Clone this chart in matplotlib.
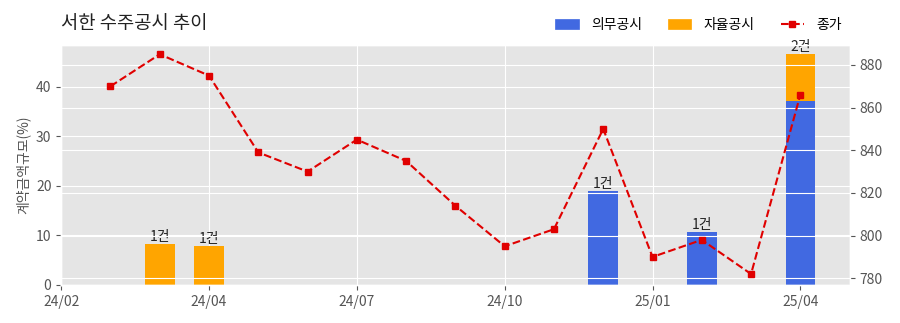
import numpy as np
import matplotlib
matplotlib.use('Agg')
import matplotlib.pyplot as plt
from matplotlib.patches import Patch
from matplotlib.lines import Line2D

plt.style.use('ggplot')
plt.rcParams['font.family'] = ['Noto Sans CJK KR', 'DejaVu Sans']
plt.rcParams['axes.unicode_minus'] = False

# data (categorical positions 0..15)
tick_pos = [0, 3, 6, 9, 12, 15]
tick_labels = ['24/02', '24/04', '24/07', '24/10', '25/01', '25/04']

price_x = list(range(1, 16))
price = [870, 885, 875, 839, 830, 845, 835, 814, 795, 803, 850, 790, 798, 782, 866]

mand_x = [11, 13, 15]
mand_val = [19.0, 10.6, 37.0]
vol_x = [2, 3, 15]
vol_val = [8.3, 7.9, 9.5]
count_x = [2, 3, 11, 13, 15]
count_top = [8.3, 7.9, 19.0, 10.6, 46.5]
count_text = ['1건', '1건', '1건', '1건', '2건']

fig = plt.figure(figsize=(9, 3.23), dpi=100)
ax = fig.add_axes([0.068, 0.118, 0.876, 0.743])

mand_full = np.zeros(16)
vol_full = np.zeros(16)
for x, v in zip(mand_x, mand_val):
    mand_full[x] = v
for x, v in zip(vol_x, vol_val):
    vol_full[x] = v

idx = np.arange(16)
ax.bar(idx, mand_full, width=0.6, color='#4169E1', zorder=2)
ax.bar(idx, vol_full, width=0.6, bottom=mand_full, color='#FFA500', zorder=2)
for x, t, s in zip(count_x, count_top, count_text):
    ax.text(x, t, s, ha='center', va='bottom', fontsize=10, color='#222222')

ax.set_xlim(0, 16)
ax.set_ylim(0, 48.4)
ax.set_xticks(tick_pos)
ax.set_xticklabels(tick_labels)
ax.set_yticks([0, 10, 20, 30, 40])
ax.set_ylabel('계약금액규모(%)', fontsize=10, color='#555555')
ax.tick_params(labelsize=10, colors='#555555')

ax2 = ax.twinx()
ax2.plot(price_x, price, color='#E00000', linestyle='--', marker='s',
         markersize=4, linewidth=1.5, zorder=3)
ax2.set_ylim(776.9, 889.4)
ax2.set_yticks([780, 800, 820, 840, 860, 880])
ax2.tick_params(labelsize=10, colors='#555555')
ax2.grid(True, color='white')

fig.text(0.068, 0.928, '서한 수주공시 추이', fontsize=13.5, color='#222222',
         va='center')

handles = [Patch(color='#4169E1', label='의무공시'),
           Patch(color='#FFA500', label='자율공시'),
           Line2D([0], [0], color='#E00000', linestyle='--', marker='s',
                  markersize=4, label='종가')]
fig.legend(handles=handles, loc='center right', bbox_to_anchor=(0.942, 0.923),
           borderaxespad=0, ncol=3, frameon=False, fontsize=10,
           handlelength=1.7, handletextpad=0.9, columnspacing=1.85)

fig.savefig('out.png', dpi=100)
